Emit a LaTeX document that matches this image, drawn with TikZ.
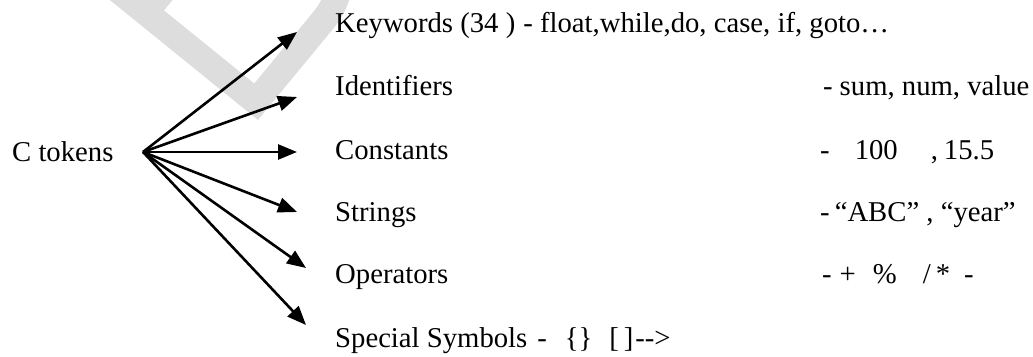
\documentclass[tikz,border=0pt]{standalone}
\usepackage{fontspec}
\setmainfont{Liberation Serif}
\usetikzlibrary{arrows.meta}
\definecolor{wmgray}{RGB}{221,221,221}
\begin{document}
\begin{tikzpicture}[x=1pt,y=1pt,
  lbl/.style={anchor=base west, inner sep=0pt, font=\fontsize{28.7}{32}\selectfont},
  conn/.style={line width=2.6pt, -{Triangle[length=19pt,width=15pt]}},
  wmark/.style={wmgray, line width=26pt, line join=miter}
  ]
\useasboundingbox (0,0) rectangle (1033,356);
\begin{scope}
\clip (0,0) rectangle (1033,356);
\begin{scope}[shift={(258,236)}, rotate=51]
\draw[wmark] (13,0) -- (13,288) -- (110,288) arc[start angle=90,end angle=-90,radius=66.5] -- (13,155) -- (120,155) arc[start angle=90,end angle=-90,radius=71.5] -- (13,13);
\end{scope}
\end{scope}
\node[lbl] (ct) at (12,194) {C tokens};
\coordinate (hub) at (143,204);
\node[lbl] (kw) at (335,323) {Keywords (34 )\hspace{8pt}- float,while,do, case, if, goto…};
\node[lbl] (id) at (335,260) {Identifiers};
\node[lbl] (idx) at (823,260) {-\hspace{7pt}sum, num, value};
\node[lbl] (cs) at (335,196) {Constants};
\node[lbl] (csx) at (820,196) {-\hspace{25pt}100\hspace{33pt},\hspace{6pt}15.5};
\node[lbl] (st) at (335,134) {Strings};
\node[lbl] (stx) at (820,134) {-\hspace{5pt}“ABC” , “year”};
\node[lbl] (op) at (335,72) {Operators};
\node[lbl] (opx) at (822,72) {-\hspace{8pt}+\hspace{17pt}\%\hspace{26pt}/\hspace{5pt}*\hspace{14pt}-};
\node[lbl] (sp) at (335,9) {Special Symbols\hspace{10pt}-\hspace{18pt}\{\}\hspace{17pt}[\,]\hspace{2pt}-{}->};
\coordinate (t1) at (297,324);
\coordinate (t2) at (297,259);
\coordinate (t3) at (297,204);
\coordinate (t4) at (297,144);
\coordinate (t5) at (306,88);
\coordinate (t6) at (306,31);
\foreach \t in {t1,t2,t3,t4,t5,t6} \draw[conn] (hub) -- (\t);
\end{tikzpicture}
\end{document}
